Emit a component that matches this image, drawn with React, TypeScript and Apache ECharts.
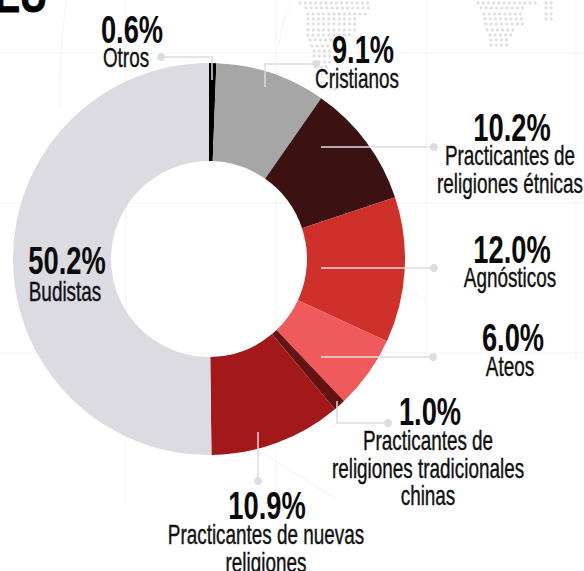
import React, { useEffect, useRef } from "react";
import * as echarts from "echarts";

const categories = ["Otros", "Cristianos", "Practicantes de\nreligiones étnicas", "Agnósticos", "Ateos", "Practicantes de\nreligiones tradicionales\nchinas", "Practicantes de nuevas\nreligiones", "Budistas"];
const shares = [0.6, 9.1, 10.2, 12.0, 6.0, 1.0, 10.9, 50.2];
const sliceColors = ["#000000", "#a6a6a6", "#3c1112", "#d0302a", "#ef5a5c", "#651212", "#a3191a", "#dbdbe1"];

// x, y of the percentage, x, y of first name line
const labelPlaces = [
  [132, 30, 126, 58],
  [363, 50, 357, 79],
  [512, 128, 510, 156],
  [512, 250, 510, 278],
  [513, 338, 510, 367],
  [430, 412, 428, 441],
  [267, 506, 266, 535],
  [67, 261, 65, 292],
];
const leaders = [
  [[161, 57], [212, 57], [212, 80]],
  [[316, 64], [265, 64], [265, 87]],
  [[434, 147], [321, 147]],
  [[434, 268], [321, 268]],
  [[433, 357], [321, 357]],
  [[388, 423], [337, 423], [337, 401]],
  [[258, 481], [258, 432]],
];
// dotted map rows: y, first x, last x
const mapRows = [
  [3, 300, 370], [8, 306, 370], [14, 308, 370], [19, 308, 358], [24, 308, 357], [30, 308, 357], [35, 308, 350],
  [40, 310, 340], [46, 312, 332], [51, 314, 330], [56, 314, 330], [62, 314, 330], [67, 316, 328], [89, 335, 340],
  [3, 478, 538], [8, 481, 525], [14, 484, 524], [19, 485, 524], [24, 486, 523], [30, 487, 518], [35, 490, 515], [40, 491, 510], [45, 491, 507],
  [3, 546, 556], [8, 546, 556], [14, 546, 554], [19, 546, 554],
];
const gridX = [126, 276, 426, 576];
const gridY = [53, 203, 353];

const FONT = '"Liberation Sans Narrow", "Liberation Sans", sans-serif';

export default function App() {
  const ref = useRef<HTMLDivElement>(null);
  useEffect(() => {
    document.body.style.margin = "0";
    const chart = echarts.init(ref.current!, null, { renderer: "svg" });
    const bg: any[] = [];
    const faint = { stroke: "#f3f3f4", lineWidth: 1, fill: "none" };
    gridY.forEach((y) => bg.push({ type: "line", z: 0, shape: { x1: 0, y1: y, x2: 584, y2: y }, style: faint }));
    gridX.forEach((x, i) => bg.push({ type: "line", z: 0, shape: { x1: x, y1: 0, x2: x, y2: i < 2 ? 504 : 360 }, style: faint }));
    bg.push({ type: "polyline", z: 0, shape: { points: [[66, 0], [62, 40], [60, 75], [60, 110]] }, style: faint });
    bg.push({ type: "polyline", z: 0, shape: { points: [[279, 45], [283, 22], [292, 0]] }, style: faint });
    bg.push({ type: "polyline", z: 0, shape: { points: [[258, 450], [336, 499]] }, style: faint });
    bg.push({ type: "polyline", z: 0, shape: { points: [[405, 290], [426, 300]] }, style: faint });
    mapRows.forEach(([y, a, b]) => {
      for (let x = a; x <= b; x += 5.2) {
        bg.push({ type: "circle", z: 0, shape: { cx: x, cy: y, r: 1.6 }, style: { fill: "#dfdfe6" } });
      }
    });
    const marks: any[] = [];
    leaders.forEach((pts) => {
      marks.push({ type: "polyline", z: 10, shape: { points: pts }, style: { stroke: "#dcdce4", lineWidth: 1.5, fill: "none" } });
      marks.push({ type: "circle", z: 10, shape: { cx: pts[0][0], cy: pts[0][1], r: 4 }, style: { fill: "#dcdce4" } });
    });
    categories.forEach((name, i) => {
      const [px, py, nx, ny] = labelPlaces[i];
      marks.push({
        type: "text", z: 11, x: px, y: py, scaleX: 0.7,
        style: { text: shares[i].toFixed(1) + "%", font: `bold 39px ${FONT}`, fill: "#0a0a0a", align: "center", verticalAlign: "middle" },
      });
      name.split("\n").forEach((line, k) => {
        marks.push({
          type: "text", z: 11, x: nx, y: ny + k * 27.5, scaleX: 0.7,
          style: { text: line, font: `27px ${FONT}`, fill: "#111111", stroke: "#111111", lineWidth: 0.4, align: "center", verticalAlign: "middle" },
        });
      });
    });
    marks.push({
      type: "text", z: 11, x: 21, y: 19, scaleX: 0.8,
      style: { text: "EU", font: `bold 47px ${FONT}`, fill: "#000", stroke: "#000", lineWidth: 1, align: "center", verticalAlign: "bottom" },
    });
    chart.setOption({
      animation: false,
      backgroundColor: "#ffffff",
      graphic: { elements: [...bg, ...marks] },
      series: [
        {
          type: "pie",
          z: 2,
          center: [209, 259],
          radius: [98, 196],
          startAngle: 90,
          clockwise: true,
          silent: true,
          label: { show: false },
          labelLine: { show: false },
          data: categories.map((name, i) => ({ name, value: shares[i], itemStyle: { color: sliceColors[i] } })),
        },
      ],
    });
    return () => chart.dispose();
  }, []);
  return <div ref={ref} style={{ width: 584, height: 571 }} />;
}
